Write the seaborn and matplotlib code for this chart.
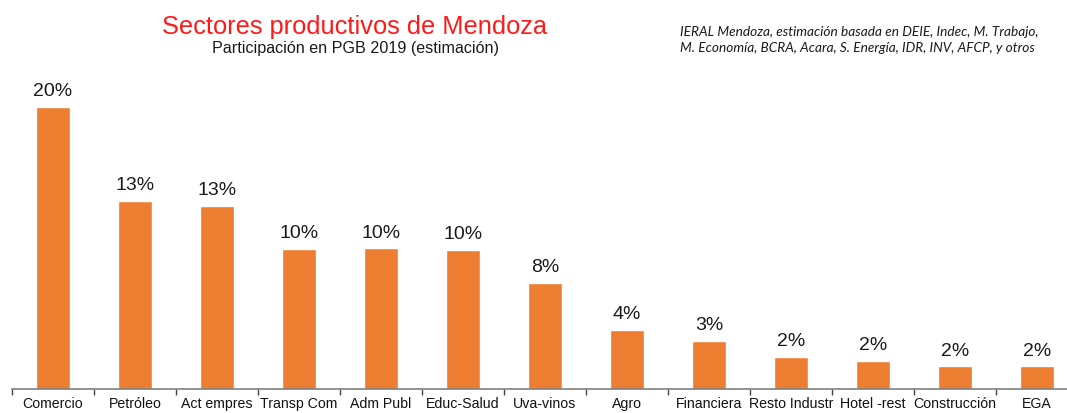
import numpy as np
import pandas as pd
import matplotlib
matplotlib.use("Agg")
import matplotlib.pyplot as plt
import seaborn as sns

sectores = ["Comercio", "Petróleo", "Act empres", "Transp Com", "Adm Publ",
            "Educ-Salud", "Uva-vinos", "Agro", "Financiera", "Resto Industr",
            "Hotel -rest", "Construcción", "EGA"]
participacion = [20.0, 13.35, 13.0, 9.95, 9.98, 9.86, 7.54, 4.2, 3.4, 2.3, 2.0, 1.6, 1.6]

df = pd.DataFrame({"sector": sectores, "pct": participacion})

sns.set_style("white")
plt.rcParams["font.family"] = ["Liberation Sans", "DejaVu Sans"]

fig = plt.figure(figsize=(10.67, 4.14), dpi=100)
ax = fig.add_axes([12 / 1067, 24 / 414, 13 * 82 / 1067, 390 / 414])

sns.barplot(data=df, x="sector", y="pct", color="#ED7D31", width=0.41,
            saturation=1, ax=ax)

ax.set_xlim(-0.5, len(sectores) - 0.5)
ax.set_ylim(0, 390 / 14.1)
ax.set_xlabel("")
ax.set_ylabel("")
ax.set_yticks([])
for s in ["top", "right", "left"]:
    ax.spines[s].set_visible(False)
ax.spines["bottom"].set_color("#808080")
ax.spines["bottom"].set_linewidth(1.2)

# category labels centered, tick marks between categories
ax.tick_params(axis="x", which="major", length=0, pad=5, labelsize=10.2,
               labelcolor="#111111")
ax.set_xticks(np.arange(-0.5, len(sectores), 1.0), minor=True)
ax.tick_params(axis="x", which="minor", bottom=True, length=4, width=1,
               color="#444444", direction="out")

for i, v in enumerate(participacion):
    ax.text(i, v + 0.55, f"{v:.0f}%", ha="center", va="bottom", fontsize=14,
            color="#1a1a1a")

fig.text(355 / 1067, 1 - 27 / 414, "Sectores productivos de Mendoza",
         ha="center", va="center", fontsize=18.3, color="#ff1a1a")
fig.text(355 / 1067, 1 - 48 / 414, "Participación en PGB 2019 (estimación)",
         ha="center", va="center", fontsize=11.6, color="#1a1a1a")

fuente = ("IERAL Mendoza, estimación basada en DEIE, Indec, M. Trabajo,\n"
          "M. Economía, BCRA, Acara, S. Energía, IDR, INV, AFCP, y otros")
fig.text(680 / 1067, 1 - 40 / 414, fuente, ha="left", va="center",
         fontsize=9.8, style="italic", family=["Lato", "DejaVu Sans"],
         color="#1a1a1a", linespacing=1.3)

fig.savefig("out.png", dpi=100)
